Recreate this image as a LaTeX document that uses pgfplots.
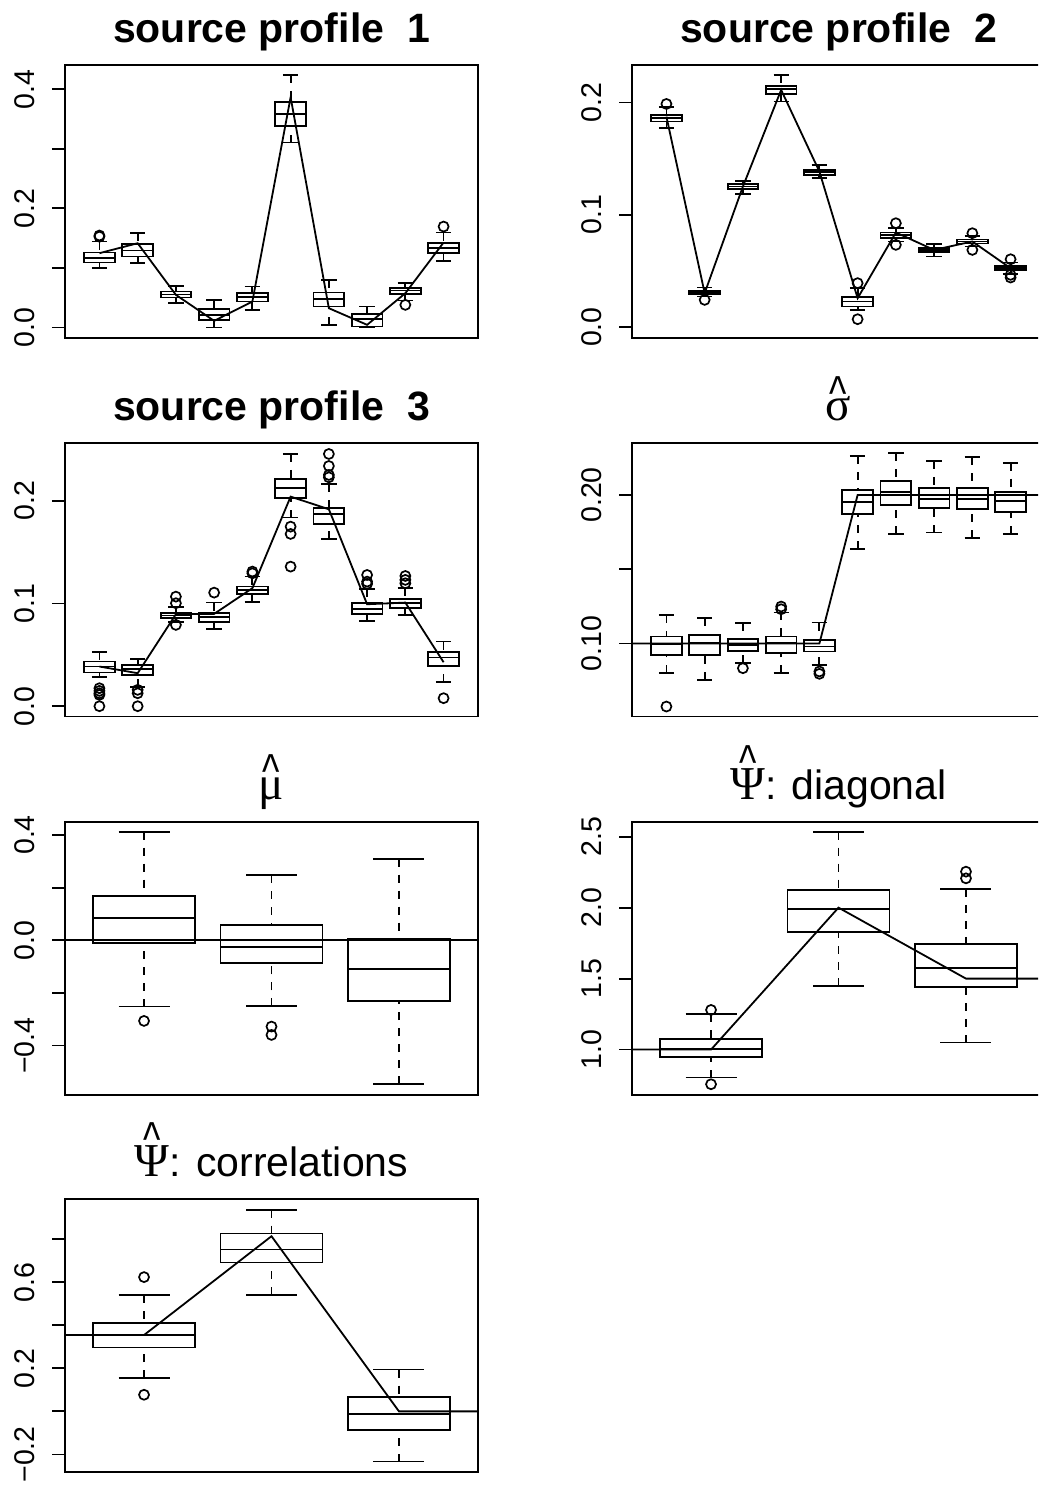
\documentclass[border=0pt]{standalone}
\usepackage{fontspec}
\setmainfont{Liberation Sans}
\newfontfamily\greek[Scale=1.15]{Liberation Serif}
\usepackage{graphicx}
\usepackage{pgfplots}
\pgfplotsset{compat=1.18}
\usepgfplotslibrary{statistics}

\newcommand\rhat[2]{\ooalign{#1\cr\hidewidth\raisebox{#2}{\scalebox{0.9}[1.2]{\char"005E}}\hidewidth\cr}}

\pgfplotsset{
  rpanel/.style={
    scale only axis, width=206.5pt, height=136.6pt,
    anchor=north west,
    axis line style={line width=0.9pt},
    xtick=\empty,
    ytick pos=left,
    tick align=outside,
    major tick length=6.5pt,
    tick style={black, line width=0.9pt},
    yticklabel style={rotate=90, anchor=south, inner sep=0pt, font=\fontsize{14.25pt}{16pt}\selectfont, yshift=8.5pt},
    title style={at={(0.5,1)}, anchor=base, yshift=5.25pt, inner sep=0pt, font=\fontsize{20.5pt}{24pt}\selectfont},
    clip=true,
    boxplot/draw direction=y,
  },
  bxs/.style={black, line width=0.9pt, mark=o, mark size=2.5pt, mark options={solid, line width=0.85pt}},
  tl/.style={black, line width=0.9pt, mark=none},
  boxplot/draw/whisker/.code 2 args={%
    \draw[line width=0.9pt, dash pattern=on 4pt off 4pt] (boxplot box cs:#2,0.5) -- (boxplot box cs:#1,0.5);
    \draw[line width=0.9pt, solid] (boxplot box cs:#2,0.25) -- (boxplot box cs:#2,0.75)
                                   (boxplot box cs:#1,0.25) -- (boxplot box cs:#1,0.75);
  },
}

% box without outliers: position, lower whisker, Q1, median, Q3, upper whisker
\newcommand\bx[6]{\addplot[bxs, boxplot prepared={draw position=#1, lower whisker=#2, lower quartile=#3, median=#4, upper quartile=#5, upper whisker=#6, box extend=0.8, whisker extend=0.4}] coordinates {};}
% box with outliers (last argument: values separated by \\)
\newcommand\bxo[7]{\addplot[bxs, boxplot prepared={draw position=#1, lower whisker=#2, lower quartile=#3, median=#4, upper quartile=#5, upper whisker=#6, box extend=0.8, whisker extend=0.4}] table[row sep=\\, y index=0] {v\\#7};}

\begin{document}
\begin{tikzpicture}
\useasboundingbox (0,0) rectangle (519pt,743pt);
\clip (0,0) rectangle (519pt,743pt);

% ---------- source profile 1 ----------
\begin{axis}[rpanel, at={(32.5pt,710.5pt)}, xmin=0.1, xmax=10.9, ymin=-0.0179, ymax=0.4408,
  ytick={0,0.1,0.2,0.3,0.4}, yticklabels={0.0,{},0.2,{},0.4},
  title={\bfseries source profile\ \ 1}]
\bxo{1}{0.0996}{0.1091}{0.1169}{0.1259}{0.1443}{0.1525\\0.1545\\}
\bx{2}{0.1080}{0.1192}{0.1292}{0.1399}{0.1583}
\bx{3}{0.0408}{0.0503}{0.0554}{0.0604}{0.0699}
\bx{4}{0.0000}{0.0123}{0.0213}{0.0308}{0.0464}
\bx{5}{0.0297}{0.0436}{0.0509}{0.0576}{0.0688}
\bx{6}{0.3105}{0.3390}{0.3586}{0.3782}{0.4240}
\bx{7}{0.0045}{0.0352}{0.0476}{0.0587}{0.0800}
\bx{8}{0.0000}{0.0017}{0.0140}{0.0229}{0.0352}
\bxo{9}{0.0453}{0.0565}{0.0621}{0.0660}{0.0744}{0.0380\\}
\bxo{10}{0.1113}{0.1248}{0.1331}{0.1415}{0.1594}{0.1695\\}
\addplot[tl] coordinates {(1,0.1248)(2,0.1415)(3,0.0548)(4,0.0112)(5,0.0436)(6,0.3866)(7,0.0324)(8,0.0045)(9,0.0576)(10,0.1427)};
\end{axis}

% ---------- source profile 2 ----------
\begin{axis}[rpanel, at={(316pt,710.5pt)}, xmin=0.1, xmax=10.9, ymin=-0.0098, ymax=0.2335,
  ytick={0,0.1,0.2}, yticklabels={0.0,0.1,0.2},
  title={\bfseries source profile\ \ 2}]
\bxo{1}{0.1772}{0.1831}{0.1861}{0.1890}{0.1958}{0.1988\\}
\bxo{2}{0.0273}{0.0294}{0.0312}{0.0326}{0.0353}{0.0243\\}
\bx{3}{0.1187}{0.1231}{0.1252}{0.1273}{0.1303}
\bx{4}{0.2009}{0.2077}{0.2119}{0.2148}{0.2246}
\bx{5}{0.1332}{0.1356}{0.1380}{0.1401}{0.1445}
\bxo{6}{0.0154}{0.0184}{0.0228}{0.0267}{0.0347}{0.0392\\0.0071\\}
\bxo{7}{0.0763}{0.0792}{0.0819}{0.0843}{0.0881}{0.0926\\0.0733\\}
\bx{8}{0.0629}{0.0668}{0.0688}{0.0703}{0.0742}
\bxo{9}{0.0718}{0.0745}{0.0763}{0.0780}{0.0813}{0.0837\\0.0688\\}
\bxo{10}{0.0475}{0.0507}{0.0525}{0.0543}{0.0576}{0.0605\\0.0442\\0.0466\\}
\addplot[tl] coordinates {(1,0.1875)(2,0.0303)(3,0.1252)(4,0.2113)(5,0.1386)(6,0.0258)(7,0.0843)(8,0.0688)(9,0.0763)(10,0.0525)};
\end{axis}

% ---------- source profile 3 ----------
\begin{axis}[rpanel, at={(32.5pt,521.35pt)}, xmin=0.1, xmax=10.9, ymin=-0.0100, ymax=0.2558,
  ytick={0,0.1,0.2}, yticklabels={0.0,0.1,0.2},
  title={\bfseries source profile\ \ 3}]
\bxo{1}{0.0282}{0.0327}{0.0386}{0.0434}{0.0525}{0.0175\\0.0149\\0.0126\\0.0110\\0.0000\\}
\bxo{2}{0.0185}{0.0305}{0.0360}{0.0402}{0.0460}{0.0159\\0.0126\\0.0000\\}
\bxo{3}{0.0823}{0.0856}{0.0882}{0.0904}{0.0963}{0.1066\\0.1002\\0.0791\\}
\bxo{4}{0.0752}{0.0823}{0.0865}{0.0904}{0.1008}{0.1105\\}
\bxo{5}{0.1011}{0.1089}{0.1128}{0.1164}{0.1261}{0.1310\\0.1293\\}
\bxo{6}{0.1835}{0.2023}{0.2120}{0.2207}{0.2454}{0.1747\\0.1676\\0.1358\\}
\bxo{7}{0.1627}{0.1770}{0.1870}{0.1932}{0.2159}{0.2454\\0.2337\\0.2250\\0.2227\\}
\bxo{8}{0.0830}{0.0898}{0.0947}{0.1002}{0.1138}{0.1277\\0.1212\\0.1190\\}
\bxo{9}{0.0888}{0.0953}{0.1002}{0.1040}{0.1147}{0.1267\\0.1229\\0.1196\\}
\bxo{10}{0.0233}{0.0392}{0.0473}{0.0525}{0.0629}{0.0078\\}
\addplot[tl] coordinates {(1,0.0386)(2,0.0321)(3,0.0895)(4,0.0898)(5,0.1148)(6,0.2039)(7,0.1916)(8,0.0992)(9,0.1008)(10,0.0428)};
\end{axis}

% ---------- sigma ----------
\begin{axis}[rpanel, at={(316pt,521.35pt)}, xmin=0.1, xmax=10.9, ymin=0.0509, ymax=0.2348,
  ytick={0.1,0.15,0.2}, yticklabels={0.10,{},0.20},
  title={\rhat{\greek σ}{0.26em}}]
\bxo{1}{0.0800}{0.0924}{0.0998}{0.1047}{0.1193}{0.0576\\}
\bx{2}{0.0756}{0.0924}{0.1002}{0.1058}{0.1170}
\bxo{3}{0.0868}{0.0951}{0.0991}{0.1031}{0.1137}{0.0834\\}
\bxo{4}{0.0800}{0.0935}{0.1002}{0.1047}{0.1209}{0.1249\\0.1231\\}
\bxo{5}{0.0857}{0.0946}{0.0980}{0.1025}{0.1141}{0.0812\\0.0796\\}
\bx{6}{0.1637}{0.1870}{0.1955}{0.2034}{0.2262}
\bx{7}{0.1738}{0.1933}{0.2018}{0.2094}{0.2280}
\bx{8}{0.1747}{0.1910}{0.1973}{0.2045}{0.2229}
\bx{9}{0.1713}{0.1906}{0.1973}{0.2049}{0.2253}
\bx{10}{0.1738}{0.1888}{0.1960}{0.2022}{0.2217}
\addplot[tl] coordinates {(0,0.1)(1,0.1)(2,0.1)(3,0.1)(4,0.1)(5,0.1)(6,0.2)(7,0.2)(8,0.2)(9,0.2)(10,0.2)(11,0.2)};
\end{axis}

% ---------- mu ----------
\begin{axis}[rpanel, at={(32.5pt,332.15pt)}, xmin=0.38, xmax=3.62, ymin=-0.5873, ymax=0.4506,
  ytick={-0.4,-0.2,0,0.2,0.4}, yticklabels={−0.4,{},0.0,{},0.4},
  title={\rhat{\greek μ}{0.26em}}]
\bxo{1}{-0.2519}{-0.0114}{0.0861}{0.1684}{0.4127}{-0.3063\\}
\bxo{2}{-0.2506}{-0.0848}{-0.0253}{0.0582}{0.2468}{-0.3278\\-0.3595\\}
\bx{3}{-0.5468}{-0.2304}{-0.1101}{0.0038}{0.3101}
\addplot[tl] coordinates {(0,0)(1,0)(2,0)(3,0)(4,0)};
\end{axis}

% ---------- Psi diagonal ----------
\begin{axis}[rpanel, at={(316pt,332.15pt)}, xmin=0.38, xmax=3.62, ymin=0.6808, ymax=2.6056,
  ytick={1,1.5,2,2.5}, yticklabels={1.0,1.5,2.0,2.5},
  title={\rhat{\greek Ψ}{0.48em}: diagonal}]
\bxo{1}{0.8028}{0.9460}{1.0023}{1.0751}{1.2488}{1.2793\\0.7559\\}
\bx{2}{1.4507}{1.8263}{1.9883}{2.1244}{2.5352}
\bxo{3}{1.0493}{1.4390}{1.5728}{1.7418}{2.1315}{2.2535\\2.2066\\}
\addplot[tl] coordinates {(0,1)(1,1)(2,2)(3,1.5)(4,1.5)};
\end{axis}

% ---------- Psi correlations ----------
\begin{axis}[rpanel, at={(32.5pt,143.5pt)}, xmin=0.38, xmax=3.62, ymin=-0.2828, ymax=0.9876,
  ytick={-0.2,0,0.2,0.4,0.6,0.8}, yticklabels={−0.2,{},0.2,{},0.6,{}},
  title={\rhat{\greek Ψ}{0.48em}: correlations}]
\bxo{1}{0.1546}{0.2968}{0.3555}{0.4111}{0.5410}{0.6244\\0.0773\\}
\bx{2}{0.5410}{0.6924}{0.7527}{0.8269}{0.9382}
\bx{3}{-0.2334}{-0.0866}{-0.0124}{0.0665}{0.1947}
\addplot[tl] coordinates {(0,0.355)(1,0.355)(2,0.8145)(3,0)(4,0)};
\end{axis}
\end{tikzpicture}
\end{document}
